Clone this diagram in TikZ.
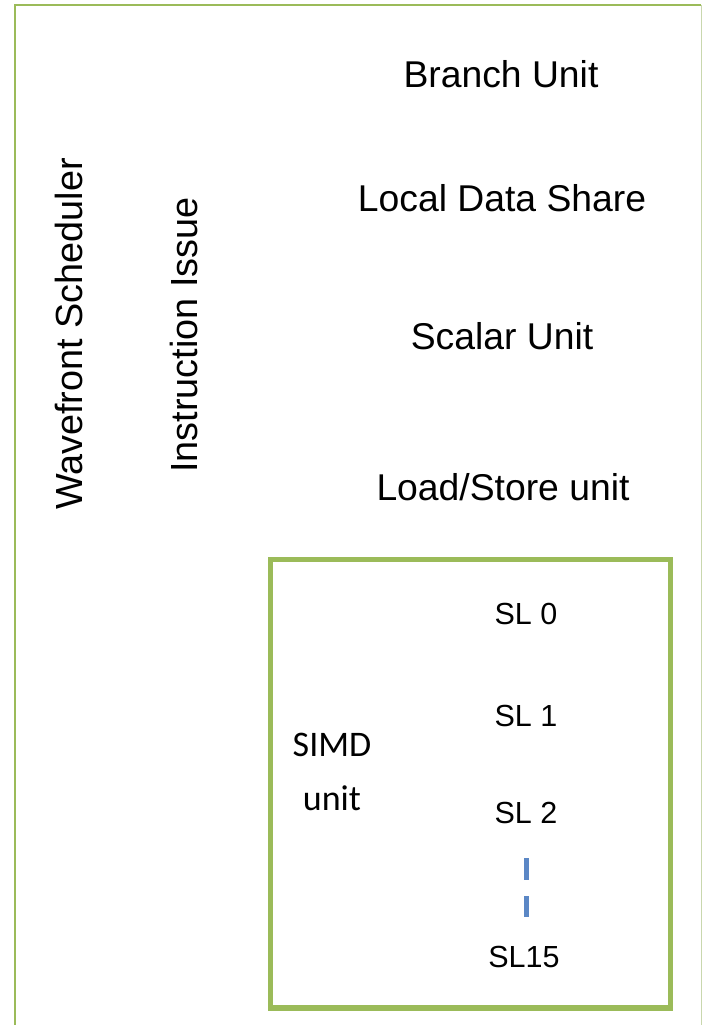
\documentclass[tikz,border=0pt]{standalone}
\usepackage{fontspec}
\setmainfont{Liberation Sans}
\newfontfamily\calibrifont{Carlito}
\definecolor{boxgreen}{HTML}{9BBB59}
\definecolor{palegreen}{HTML}{C9D7AE}
\definecolor{laneblue}{HTML}{5B87C5}
\begin{document}
\begin{tikzpicture}[x=1pt,y=-1pt,
  unitlabel/.style={inner sep=0pt,anchor=base,font=\fontsize{37.3}{41}\selectfont},
  vlabel/.style={inner sep=0pt,anchor=base,rotate=90,font=\fontsize{37.8}{41}\selectfont},
  lanelabel/.style={inner sep=0pt,anchor=base,font=\fontsize{30.5}{34}\selectfont},
  simdlabel/.style={inner sep=0pt,align=center,font=\calibrifont\fontsize{36}{54}\selectfont},
  frame/.style={draw=boxgreen,line width=2pt},
  simdbox/.style={draw=boxgreen,line width=5.5pt,line join=miter},
  lanegap/.style={draw=laneblue,line width=5pt,dash pattern=on 22pt off 16pt}]
\useasboundingbox (0,0) rectangle (702,1025);
\fill[white] (0,0) rectangle (702,1025);

% outer compute-unit frame
\draw[frame] (15,1025) -- (15,5.3) -- (701,5.3);
\draw[draw=palegreen,line width=1pt] (701,5.3) -- (701,1025);

% front-end
\node[vlabel] (sched) at (82,334) {Wavefront Scheduler};
\node[vlabel] (issue) at (197,335) {Instruction Issue};

% execution units
\node[unitlabel] (branch) at (501,88) {Branch Unit};
\node[unitlabel] (lds) at (502,211) {Local Data Share};
\node[unitlabel] (scalar) at (502,349) {Scalar Unit};
\node[unitlabel] (ldst) at (503,500) {Load/Store unit};

% SIMD unit with its lanes
\draw[simdbox] (270.5,559.7) rectangle (670.5,1008);
\node[simdlabel] (simd) at (332,772) {SIMD\\unit};
\node[lanelabel] (sl0) at (526,624) {SL 0};
\node[lanelabel] (sl1) at (526,726) {SL 1};
\node[lanelabel] (sl2) at (526,823) {SL 2};
\node[lanelabel] (sl15) at (524,967) {SL15};
\coordinate (gapTop) at (526,858);
\coordinate (gapBot) at (526,917);
\draw[lanegap] (gapTop) -- (gapBot);
\end{tikzpicture}
\end{document}
